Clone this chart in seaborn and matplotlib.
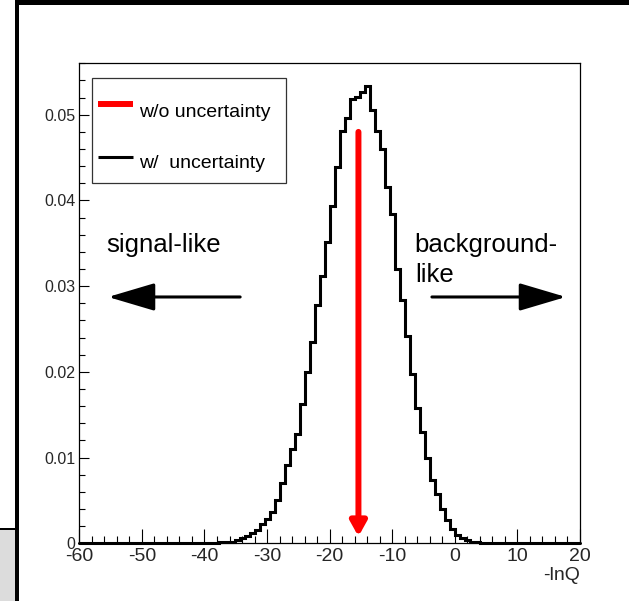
import numpy as np
import pandas as pd
import matplotlib
matplotlib.use("Agg")
import matplotlib.pyplot as plt
from matplotlib.patches import Rectangle
from matplotlib.lines import Line2D
from matplotlib.ticker import MultipleLocator, FuncFormatter
import seaborn as sns

# ---------------- data ----------------
x_range = (-60.0, 20.0)
n_bins = 100
# normalised -lnQ distribution (with uncertainty), one value per 0.8-wide bin
density = [
    0, 0, 0, 0, 0, 0, 0, 0, 0, 0,
    0, 0, 0, 0, 0, 0, 0, 0, 0, 0,
    0, 0, 0, 0, 0, 0, 0.00008, 0.00008, 0.0001, 0.0001,
    0.00015, 0.00035, 0.0006, 0.00085, 0.0012, 0.0016, 0.0023, 0.0028, 0.0037, 0.0050,
    0.0070, 0.0091, 0.0110, 0.0127, 0.0163, 0.0200, 0.0235, 0.0278, 0.0312, 0.0351,
    0.0393, 0.0439, 0.0481, 0.0496, 0.0518, 0.0521, 0.0527, 0.0534, 0.0506, 0.0481,
    0.0460, 0.0416, 0.0384, 0.0320, 0.0284, 0.0242, 0.0198, 0.0158, 0.0130, 0.0099,
    0.0074, 0.0058, 0.0040, 0.0027, 0.0017, 0.0010, 0.0006, 0.0004, 0.0002, 0.0001,
    0.00006, 0.00004, 0.00002, 0, 0, 0, 0, 0, 0, 0,
    0, 0, 0, 0, 0, 0, 0, 0, 0, 0,
]
# -lnQ without uncertainty (single value, red arrow)
nominal_lnq = -15.4
nominal_top = 0.048
legend_labels = ["w/o uncertainty", "w/  uncertainty"]
x_label = "-lnQ"
side_labels = ["signal-like", "background-", "like"]

# ---------------- style ----------------
sns.set_theme(style="white")
plt.rcParams["font.family"] = ["Liberation Sans", "DejaVu Sans"]
plt.rcParams["axes.unicode_minus"] = False

W, H = 629, 601
fig = plt.figure(figsize=(W / 100, H / 100), dpi=100)
fig.patch.set_facecolor("white")

# canvas decorations (cropped ROOT window)
fig.add_artist(Rectangle((0, 0), 15 / W, (601 - 529) / H, transform=fig.transFigure,
                         facecolor="#dcdcdc", edgecolor="none"))
fig.add_artist(Rectangle((0, (601 - 530) / H), 17 / W, 2.5 / H, transform=fig.transFigure,
                         facecolor="black", edgecolor="none"))
fig.add_artist(Rectangle((15 / W, 0), 4 / W, 1, transform=fig.transFigure,
                         facecolor="black", edgecolor="none"))
fig.add_artist(Rectangle((15 / W, 1 - 5 / H), 1, 5 / H, transform=fig.transFigure,
                         facecolor="black", edgecolor="none"))

ax_l, ax_b = 79.3, 543.3
ax_w, ax_h = 500.7, 480.3
ax = fig.add_axes([ax_l / W, (H - ax_b) / H, ax_w / W, ax_h / H])
ax.set_facecolor("white")

edges = np.linspace(x_range[0], x_range[1], n_bins + 1)
centers = (edges[:-1] + edges[1:]) / 2
df = pd.DataFrame({"lnq": centers, "density": density})

n_before = len(ax.lines)
sns.histplot(data=df, x="lnq", weights="density", bins=edges.tolist(), element="step",
             fill=False, color="black", linewidth=2.2, ax=ax)
for ln in ax.lines[n_before:]:
    ln.set_clip_on(False)
    ln.set_solid_joinstyle("miter")

ax.set_xlim(*x_range)
ax.set_ylim(0, 0.05604)

# red arrow (w/o uncertainty)
ax.annotate("", xy=(nominal_lnq, 0.0008), xytext=(nominal_lnq, nominal_top),
            arrowprops=dict(arrowstyle="-|>,head_length=8.6,head_width=4.8",
                            mutation_scale=1, color="#ff0000", lw=4.3,
                            shrinkA=0, shrinkB=0))

# side arrows
arrow_y = 0.02874
ax.annotate("", xy=(-55.4, arrow_y), xytext=(-34.3, arrow_y),
            arrowprops=dict(arrowstyle="-|>,head_length=29,head_width=8.6",
                            mutation_scale=1, color="black", lw=2.2,
                            shrinkA=0, shrinkB=0))
ax.annotate("", xy=(17.75, arrow_y), xytext=(-3.66, arrow_y),
            arrowprops=dict(arrowstyle="-|>,head_length=29,head_width=8.6",
                            mutation_scale=1, color="black", lw=2.2,
                            shrinkA=0, shrinkB=0))

ax.text(-55.7, 0.0340, side_labels[0], fontsize=18.5, ha="left", va="baseline", color="black")
ax.text(-6.4, 0.0340, side_labels[1], fontsize=18.5, ha="left", va="baseline", color="black")
ax.text(-6.4, 0.0305, side_labels[2], fontsize=18.5, ha="left", va="baseline", color="black")

# legend box (ROOT TLegend style)
ax.add_patch(Rectangle((0.0254, 0.750), 0.388, 0.2188, transform=ax.transAxes,
                       facecolor="white", edgecolor="#333333", lw=0.9, zorder=5))
ax.add_line(Line2D([0.0373, 0.1073], [0.9153, 0.9153], transform=ax.transAxes,
                   color="#ff0000", lw=4.3, solid_capstyle="butt", zorder=6))
ax.add_line(Line2D([0.0373, 0.1073], [0.8049, 0.8049], transform=ax.transAxes,
                   color="black", lw=2.2, solid_capstyle="butt", zorder=6))
ax.text(0.1198, 0.8882, legend_labels[0], transform=ax.transAxes, fontsize=14,
        ha="left", va="baseline", zorder=7, color="black")
ax.text(0.1198, 0.7808, legend_labels[1], transform=ax.transAxes, fontsize=14,
        ha="left", va="baseline", zorder=7, color="black")

# axes styling
for s in ax.spines.values():
    s.set_visible(True)
    s.set_color("black")
    s.set_linewidth(0.9)

ax.xaxis.set_major_locator(MultipleLocator(10))
ax.xaxis.set_minor_locator(MultipleLocator(2))
ax.yaxis.set_major_locator(MultipleLocator(0.01))
ax.yaxis.set_minor_locator(MultipleLocator(0.002))
ax.xaxis.set_major_formatter(FuncFormatter(lambda v, p: f"{int(round(v))}"))
ax.yaxis.set_major_formatter(FuncFormatter(lambda v, p: "0" if abs(v) < 1e-9 else f"{v:.2f}"))

ax.tick_params(axis="x", which="both", direction="in", bottom=True, top=False,
               color="black", width=0.8, labelsize=14, pad=3.5)
ax.tick_params(axis="x", which="major", length=10)
ax.tick_params(axis="x", which="minor", length=5)
ax.tick_params(axis="y", which="both", direction="in", left=True, right=False,
               color="black", width=0.8, labelsize=11.5, pad=3)
ax.tick_params(axis="y", which="major", length=7)
ax.tick_params(axis="y", which="minor", length=4.5)

ax.set_ylabel("")
ax.set_xlabel(x_label, loc="right", fontsize=14, labelpad=1)
ax.grid(False)

fig.savefig("out.png", dpi=100, facecolor="white")
